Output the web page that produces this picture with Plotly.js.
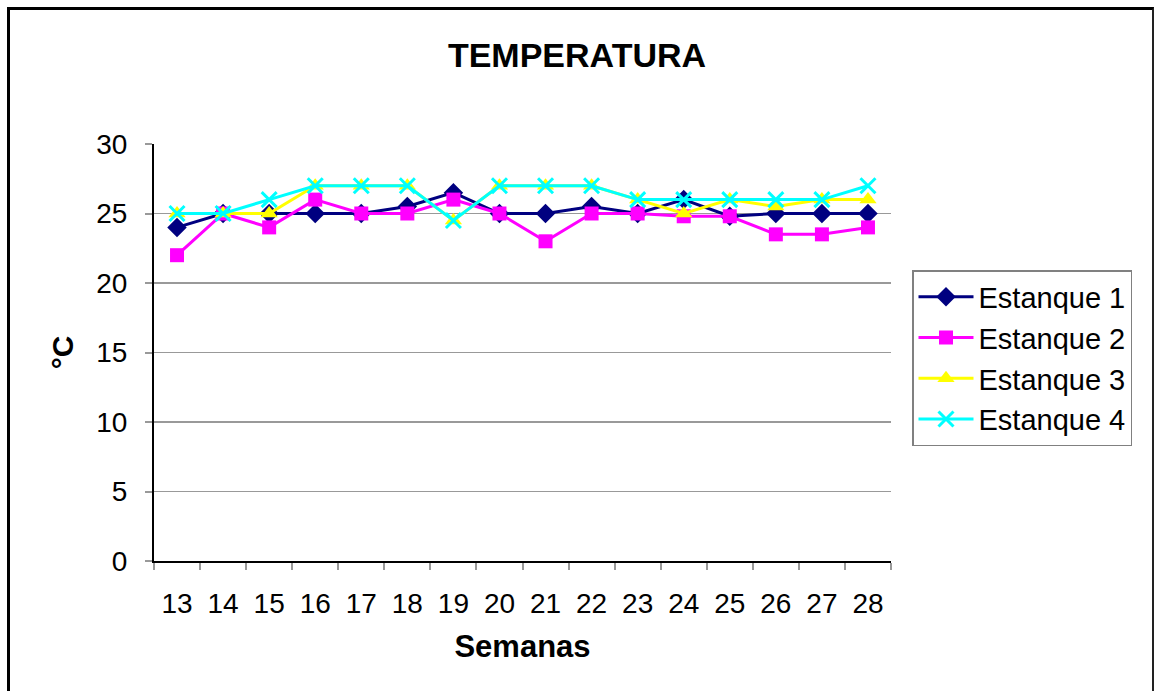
<!DOCTYPE html>
<html>
<head>
<meta charset="utf-8">
<script src="https://cdn.plot.ly/plotly-3.0.1.min.js"></script>
<style>
html,body{margin:0;padding:0;background:#fff;overflow:hidden;}
#chart{width:1154px;height:691px;}
#frame{position:absolute;left:7px;top:7px;width:1142px;height:700px;border-left:3px solid #000;border-top:3px solid #000;border-right:2px solid #222;pointer-events:none;}
</style>
</head>
<body>
<div id="chart"></div>
<div id="frame"></div>
<script>
var semanas = ['13','14','15','16','17','18','19','20','21','22','23','24','25','26','27','28'];
var estanque1 = [24, 25, 25, 25, 25, 25.5, 26.5, 25, 25, 25.5, 25, 26, 24.8, 25, 25, 25];
var estanque2 = [22, 25, 24, 26, 25, 25, 26, 25, 23, 25, 25, 24.8, 24.8, 23.5, 23.5, 24];
var estanque3 = [25, 25, 25, 27, 27, 27, 24.5, 27, 27, 27, 26, 25, 26, 25.5, 26, 26];
var estanque4 = [25, 25, 26, 27, 27, 27, 24.5, 27, 27, 27, 26, 26, 26, 26, 26, 27];
var nombres = ['Estanque 1', 'Estanque 2', 'Estanque 3', 'Estanque 4'];
var yTicks = [0, 5, 10, 15, 20, 25, 30];

var F = 'Arial, "Liberation Sans", sans-serif';

function tr(y, name, color, sym, size, lineMarker){
  var m = {symbol: sym, size: size, color: color};
  if (lineMarker) m.line = {color: color, width: 3};
  return {x: semanas, y: y, name: name, type: 'scatter', mode: 'lines+markers',
    legendgroup: name,
    line: {color: color, width: 3}, marker: m};
}

var data = [
  tr(estanque1, nombres[0], '#000080', 'diamond', 15, false),
  tr(estanque2, nombres[1], '#FF00FF', 'square', 14, false),
  tr(estanque3, nombres[2], '#FFFF00', 'triangle-up', 15, false),
  tr(estanque4, nombres[3], '#00FFFF', 'x-thin', 15, true)
];

var layout = {
  width: 1154, height: 691,
  paper_bgcolor: '#fff', plot_bgcolor: '#fff',
  margin: {l: 154, r: 263, t: 144, b: 130},
  font: {family: F, color: '#000'},
  showlegend: true,
  title: {text: '<b>TEMPERATURA</b>', font: {family: F, size: 34, color: '#000'},
    x: 0.5, xref: 'container', xanchor: 'center', y: 1 - 55/691, yref: 'container', yanchor: 'middle'},
  xaxis: {
    type: 'category', tickvals: semanas, ticktext: semanas,
    range: [-0.5, semanas.length - 0.5], autorange: false,
    tickson: 'boundaries', ticks: 'outside', ticklen: 7, tickwidth: 2, tickcolor: '#999',
    showline: true, linecolor: '#000', linewidth: 2, showgrid: false, zeroline: false,
    tickfont: {family: F, size: 28, color: '#000'}, ticklabelstandoff: 16,
    title: {text: '<b>Semanas</b>', font: {family: F, size: 31, color: '#000'}, standoff: 18},
    automargin: false, fixedrange: true
  },
  yaxis: {
    range: [0, 30], autorange: false, tickvals: yTicks, ticktext: yTicks.map(String),
    ticks: 'outside', ticklen: 7, tickwidth: 2, tickcolor: '#999',
    showline: true, linecolor: '#000', linewidth: 2,
    showgrid: true, gridcolor: '#999', gridwidth: 1.5, zeroline: false,
    tickfont: {family: F, size: 28, color: '#000'}, ticklabelstandoff: 12,
    title: {text: '<b>°C</b>', font: {family: F, size: 30, color: '#000'}, standoff: 14},
    automargin: false, fixedrange: true
  },
  legend: {
    x: (912-154)/737, y: (561-270)/417, xanchor: 'left', yanchor: 'top',
    xref: 'paper', yref: 'paper',
    bgcolor: '#fff', bordercolor: '#808080', borderwidth: 1.5,
    font: {family: F, size: 29, color: '#000'},
    traceorder: 'grouped', tracegroupgap: 0, itemwidth: 55
  }
};

Plotly.newPlot('chart', data, layout, {displayModeBar: false, staticPlot: true});
</script>
</body>
</html>
